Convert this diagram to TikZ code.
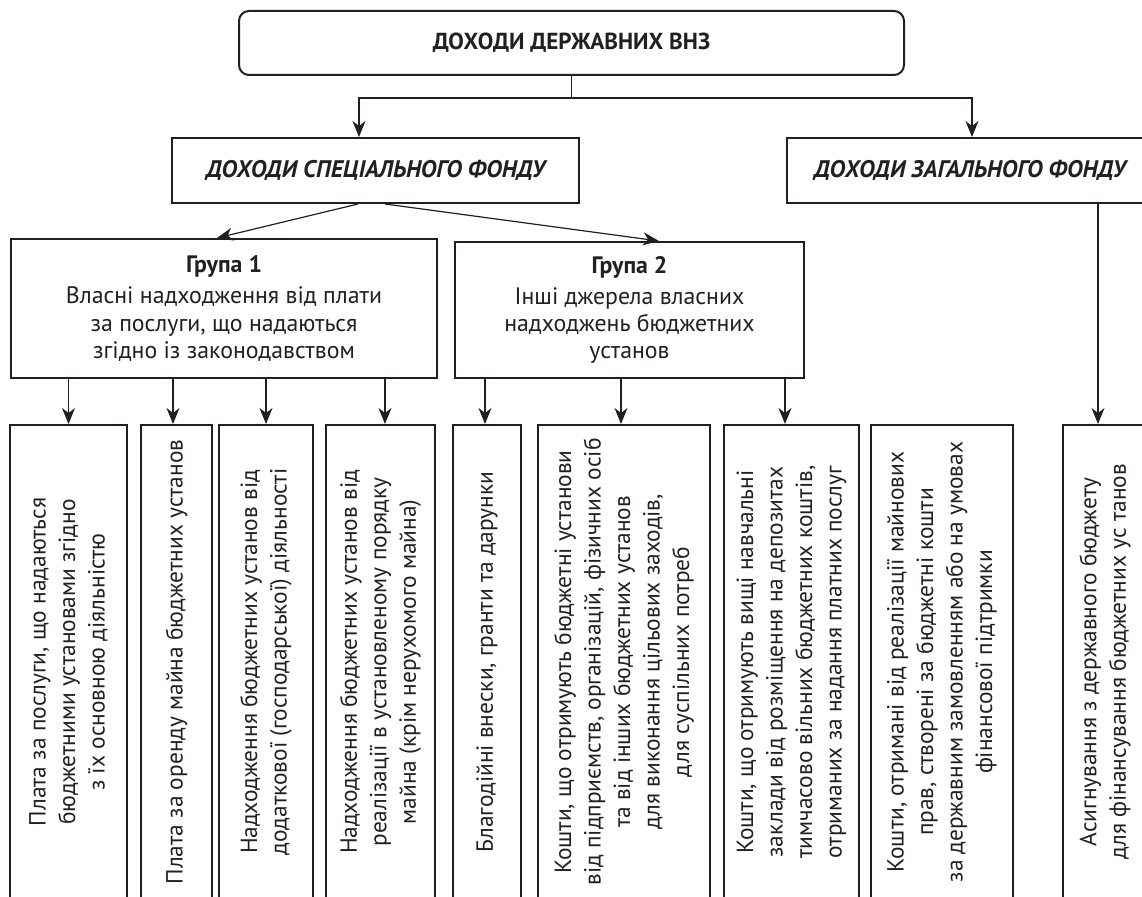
\documentclass[tikz,border=0pt]{standalone}
\usepackage{fontspec}
\setmainfont{PT Sans}
\usetikzlibrary{arrows.meta}
\definecolor{ink}{HTML}{231F20}
\begin{document}
\begin{tikzpicture}[x=0.5pt,y=-0.5pt,
  box/.style={draw=ink, line width=1pt, inner sep=0pt, align=center, text=ink},
  vbox/.style={box, rotate=90, font={\fontsize{11.7}{14.75}\selectfont}},
  gbox/.style={box, font={\fontsize{11.9}{13.6}\selectfont}},
  title/.style={box, font={\fontsize{11.6}{14}\selectfont\bfseries}},
  ititle/.style={box, font={\fontsize{12}{14}\selectfont\bfseries\itshape}},
  conn/.style={draw=ink, line width=0.6pt},
  arr/.style={conn, -{Stealth[length=8pt,width=6.5pt,inset=2.5pt]}}]
\useasboundingbox (0,0) rectangle (1142,897);
\clip (0,0) rectangle (1142,897);

% top level
\node[title, rounded corners=5pt, minimum width=332.5pt, minimum height=32pt] (top) at (571.5,43) {ДОХОДИ ДЕРЖАВНИХ ВНЗ};

\node[ititle, minimum width=203.5pt, minimum height=32.5pt] (spec) at (375.5,170.5) {ДОХОДИ СПЕЦІАЛЬНОГО ФОНДУ};
\node[ititle, minimum width=183pt, minimum height=32.5pt] (gen) at (970,170.5) {ДОХОДИ ЗАГАЛЬНОГО ФОНДУ};

% groups
\node[gbox, minimum width=213pt, minimum height=69.5pt] (g1) at (224,308.5)
  {\textbf{Група 1}\\[2pt]Власні надходження від плати\\за послуги, що надаються\\згідно із законодавством};
\node[gbox, minimum width=174.5pt, minimum height=68pt] (g2) at (629.5,310)
  {\textbf{Група 2}\\[2pt]Інші джерела власних\\надходжень бюджетних\\установ};

% bottom boxes (rotated)
\node[vbox, minimum width=237pt, minimum height=58.5pt] (b1) at (68.5,662)
  {Плата за послуги, що надаються\\бюджетними установами згідно\\з їх основною діяльністю};
\node[vbox, minimum width=237pt, minimum height=35.5pt] (b2) at (176.5,662)
  {Плата за оренду майна бюджетних установ};
\node[vbox, minimum width=237pt, minimum height=47pt] (b3) at (266,662)
  {Надходження бюджетних установ від\\додаткової (господарської) діяльності};
\node[vbox, minimum width=237pt, minimum height=54.5pt] (b4) at (380.5,662)
  {Надходження бюджетних установ від\\реалізації в установленому порядку\\майна (крім нерухомого майна)};
\node[vbox, minimum width=237pt, minimum height=34pt] (b5) at (487,662)
  {Благодійні внески, гранти та дарунки};
\node[vbox, minimum width=237pt, minimum height=86pt] (b6) at (624,662)
  {Кошти, що отримують бюджетні установи\\від підприємств, організацій, фізичних осіб\\та від інших бюджетних установ\\для виконання цільових заходів,\\для суспільних потреб};
\node[vbox, minimum width=237pt, minimum height=67.5pt] (b7) at (791.5,662)
  {Кошти, що отримують вищі навчальні\\заклади від розміщення на депозитах\\тимчасово вільних бюджетних коштів,\\отриманих за надання платних послуг};
\node[vbox, minimum width=237pt, minimum height=71pt] (b8) at (942,662)
  {Кошти, отримані від реалізації майнових\\прав, створені за бюджетні кошти\\за державним замовленням або на умовах\\фінансової підтримки};
\node[vbox, minimum width=237pt, minimum height=42pt] (b9) at (1105,662)
  {Асигнування з державного бюджету\\для фінансування бюджетних ус танов};

% connectors
\coordinate (split) at (571.5,98);
\draw[conn] (top.south) -- (split);
\draw[arr] (split) -| ([xshift=-8.25pt]spec.north);
\draw[arr] (split) -| ([xshift=1pt]gen.north);

\draw[arr] ([xshift=-8.75pt]spec.south) -- ([xshift=-3.5pt]g1.north);
\draw[arr] ([xshift=4.75pt]spec.south) -- ([xshift=14.75pt]g2.north);

\draw[arr] (g1.south -| b1.east) -- (b1.east);
\draw[arr] ([xshift=-1.75pt]g1.south -| b2.east) -- ([xshift=-1.75pt]b2.east);
\draw[arr] (g1.south -| b3.east) -- (b3.east);
\draw[arr] ([xshift=2.25pt]g1.south -| b4.east) -- ([xshift=2.25pt]b4.east);

\draw[arr] ([xshift=-1pt]g2.south -| b5.east) -- ([xshift=-1pt]b5.east);
\draw[arr] ([xshift=-1.5pt]g2.south -| b6.east) -- ([xshift=-1.5pt]b6.east);
\draw[arr] ([xshift=-3.25pt]g2.south -| b7.east) -- ([xshift=-3.25pt]b7.east);

\draw[arr] ([xshift=-3.5pt]gen.south -| b9.east) -- ([xshift=-3.5pt]b9.east);
\end{tikzpicture}
\end{document}
